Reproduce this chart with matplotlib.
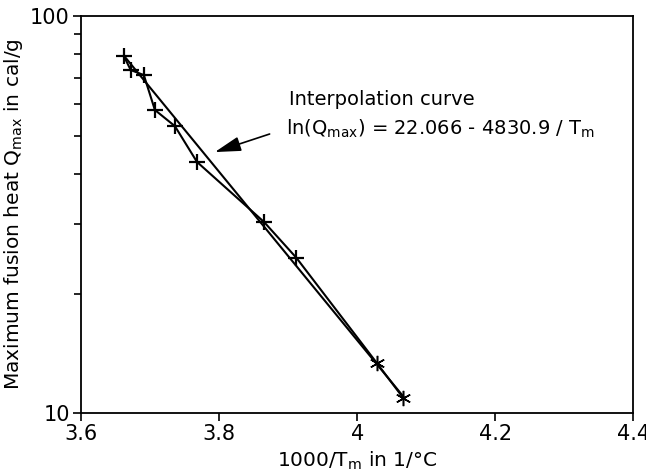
import numpy as np
import matplotlib
matplotlib.use('Agg')
import matplotlib.pyplot as plt

# measured points (1000/Tm, Qmax)
inv_t = [3.662, 3.672, 3.691, 3.707, 3.736, 3.768, 3.865, 3.912]
q_max = [79.3, 73.1, 71.0, 58.0, 52.8, 42.9, 30.3, 24.6]
inv_t2 = [4.028, 4.067]
q_max2 = [13.4, 10.9]

# interpolation line end points
fit_x = [3.662, 4.067]
fit_q = [79.5, 11.0]

xticks = [3.6, 3.8, 4.0, 4.2, 4.4]
xtick_labels = ['3.6', '3.8', '4', '4.2', '4.4']

fig = plt.figure(figsize=(6.46, 4.71), dpi=100)
ax = fig.add_axes([0.1254, 0.123, 0.855, 0.843])

ax.plot(inv_t + inv_t2, q_max + q_max2, color='black', lw=1.5)
ax.plot(inv_t, q_max, ls='none', marker='+', ms=11, mew=1.6, color='black')
ax.plot(inv_t2, q_max2, ls='none', marker=(6, 2, 0), ms=11, mew=1.1, color='black')
ax.plot(fit_x, fit_q, color='black', lw=1.5)

ax.set_yscale('log')
ax.set_xlim(3.6, 4.4)
ax.set_ylim(10, 100)
ax.set_xticks(xticks)
ax.set_xticklabels(xtick_labels)
ax.set_yticks([10, 100])
ax.set_yticklabels(['10', '100'])
ax.yaxis.set_minor_formatter(matplotlib.ticker.NullFormatter())
ax.tick_params(axis='both', which='major', labelsize=15, length=6, width=1.2, pad=2)
ax.tick_params(axis='y', which='minor', length=5, width=1.2)
for s in ax.spines.values():
    s.set_linewidth(1.3)

ax.set_xlabel('1000/T$_\\mathregular{m}$ in 1/°C', fontsize=14.5, labelpad=4)
ax.set_ylabel('Maximum fusion heat Q$_\\mathregular{max}$ in cal/g', fontsize=14.5, labelpad=4)

ax.text(3.901, 61.8, 'Interpolation curve', fontsize=14, va='center', ha='left')
ax.text(3.897, 51.9, 'ln(Q$_\\mathregular{max}$) = 22.066 - 4830.9 / T$_\\mathregular{m}$',
        fontsize=14, va='center', ha='left')
ax.annotate('', xy=(3.790, 45.2), xytext=(3.877, 50.7),
            arrowprops=dict(arrowstyle='-|>,head_length=1.6,head_width=0.45',
                            color='black', lw=1.2))

fig.savefig('out.png', dpi=100)
